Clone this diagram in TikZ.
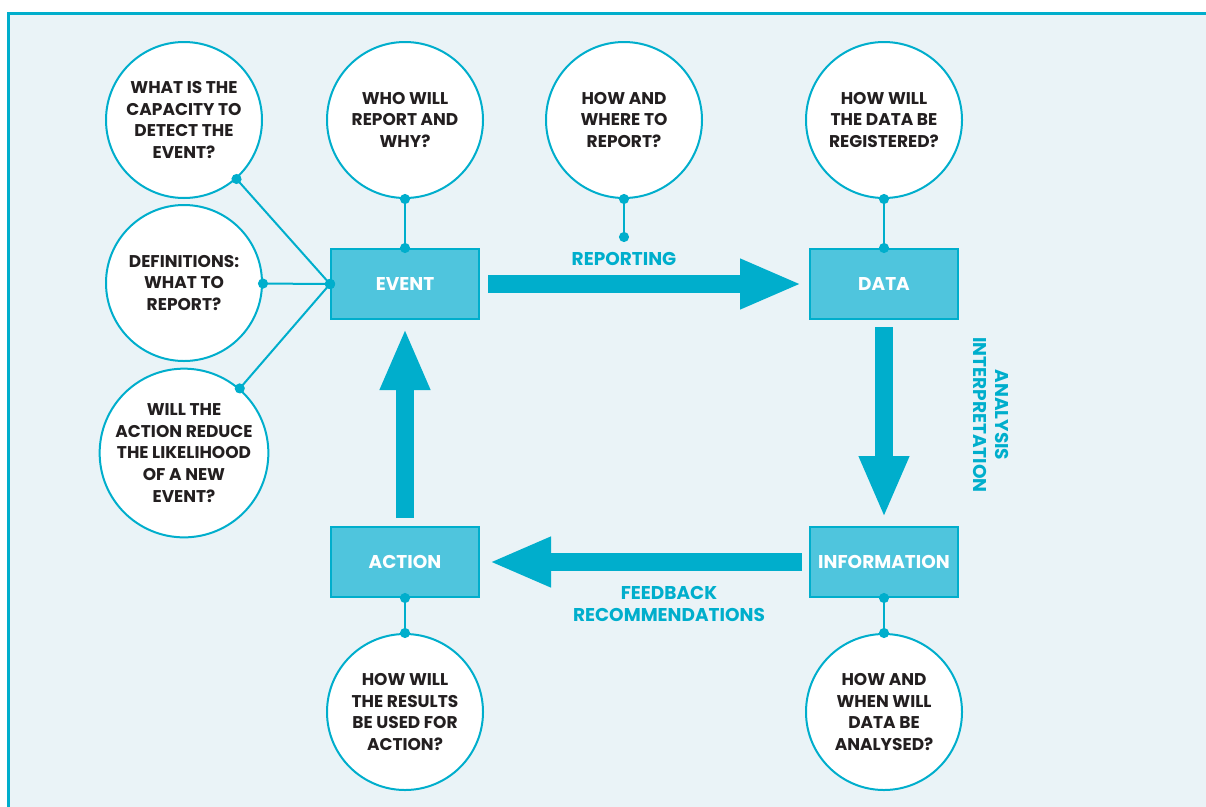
\documentclass[tikz,border=0pt]{standalone}
\usepackage{fontspec}
\setmainfont{Poppins}
\usetikzlibrary{arrows.meta}
\usepackage{xcolor}

\definecolor{sky}{HTML}{00AECC}
\definecolor{boxblue}{HTML}{4FC5DD}
\definecolor{panelbg}{HTML}{EAF3F7}
\definecolor{ink}{HTML}{231F20}

\begin{document}
\begin{tikzpicture}[x=1pt, y=-1pt,
  question/.style={circle, draw=sky, line width=2pt, fill=white,
                   minimum size=156pt, inner sep=0pt, align=center,
                   font=\fontsize{17}{21.7}\selectfont\bfseries, text=ink},
  stage/.style={rectangle, draw=sky, line width=2pt, fill=boxblue,
                minimum width=148pt, minimum height=70pt,
                font=\fontsize{18.5}{20}\selectfont\bfseries, text=white},
  link/.style={sky, line width=2pt,
               {Circle[length=10pt]}-{Circle[length=10pt]},
               shorten <=-5pt, shorten >=-5pt},
  flow/.style={sky, line width=17.5pt, -{Triangle[length=62pt, width=46pt]}},
  caption/.style={font=\fontsize{18.5}{22}\selectfont\bfseries, text=sky, align=center},
]
  \useasboundingbox (0,0) rectangle (1206,806);

  % Panel
  \draw[sky, fill=panelbg, line width=3pt] (8.5,13.5) rectangle (1220,820);

  % Stages of the cycle
  \node[stage] (event)  at (405,284) {EVENT};
  \node[stage] (data)   at (884,284) {DATA};
  \node[stage] (info)   at (884,562) {INFORMATION};
  \node[stage] (action) at (405,562) {ACTION};

  % Questions
  \node[question] (qcap)  at (184,120) {WHAT IS THE\\CAPACITY TO\\DETECT THE\\EVENT?};
  \node[question] (qdef)  at (184,283) {DEFINITIONS:\\WHAT TO\\REPORT?};
  \node[question] (qred)  at (184,453) {WILL THE\\ACTION REDUCE\\THE LIKELIHOOD\\OF A NEW\\EVENT?};
  \node[question] (qwho)  at (405,120) {WHO WILL\\REPORT AND\\WHY?};
  \node[question] (qhow)  at (624,120) {HOW AND\\WHERE TO\\REPORT?};
  \node[question] (qreg)  at (884,120) {HOW WILL\\THE DATA BE\\REGISTERED?};
  \node[question] (quse)  at (405,712) {HOW WILL\\THE RESULTS\\BE USED FOR\\ACTION?};
  \node[question] (qwhen) at (884,712) {HOW AND\\WHEN WILL\\DATA BE\\ANALYSED?};

  \coordinate (howend) at (624,237);

  % Big arrows
  \draw[flow] ([xshift=8pt]event.east) -- ([xshift=-7pt]data.west);
  \draw[flow] ([yshift=-7pt]data.south) -- ([yshift=8pt]info.north);
  \draw[flow] ([xshift=-7pt]info.west) -- ([xshift=9pt]action.east);
  \draw[flow] ([yshift=8pt]action.north) -- ([yshift=-8pt]event.south);

  % Labels on the arrows
  \node[caption] (reporting) at (624,259) {REPORTING};
  \node[caption, rotate=-90] (analysis) at (991,415) {ANALYSIS\\INTERPRETATION};
  \node[caption] (feedback) at (669,604) {FEEDBACK\\RECOMMENDATIONS};

  % Links from questions
  \draw[link] (qcap) -- (event.west);
  \draw[link] (qdef) -- (event.west);
  \draw[link] (qred) -- (event.west);
  \draw[link] (qwho) -- (event.north);
  \draw[link] (qhow) -- (howend);
  \draw[link] (qreg) -- (data.north);
  \draw[link] (action.south) -- (quse);
  \draw[link] (info.south) -- (qwhen);
\end{tikzpicture}
\end{document}
